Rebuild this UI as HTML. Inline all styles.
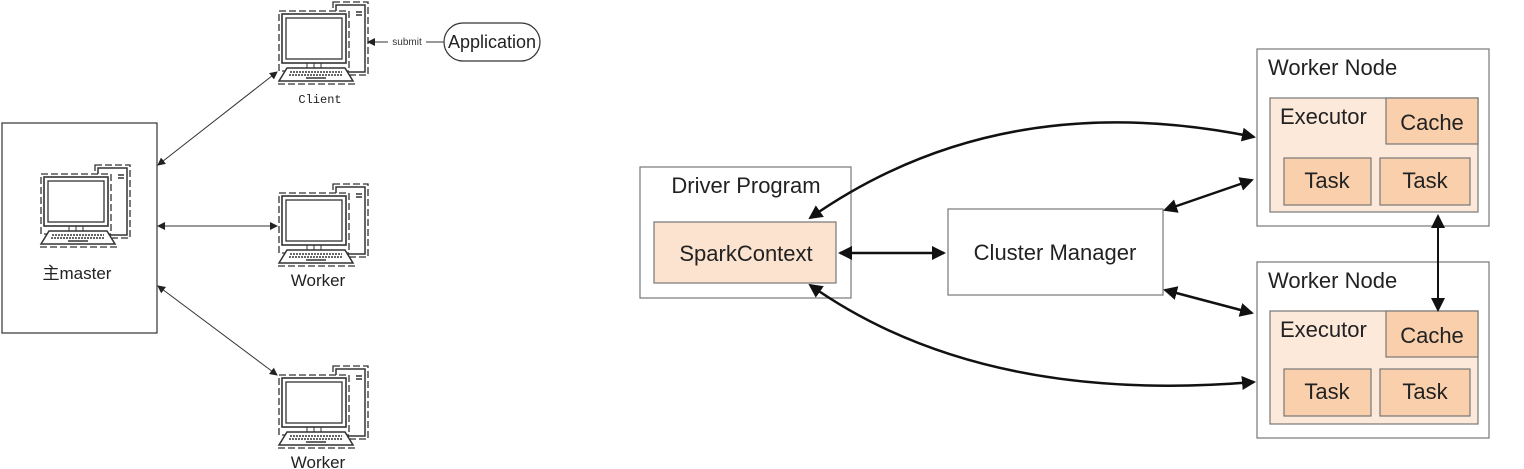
<!DOCTYPE html>
<html><head><meta charset="utf-8"><style>
html,body{margin:0;padding:0;background:#fff}
svg{display:block}
</style></head><body>
<svg width="1524" height="469" viewBox="0 0 1524 469" xmlns="http://www.w3.org/2000/svg">
<defs>
<g id="pc" fill="none" stroke="#333">
 <rect x="55" y="0" width="35" height="73" stroke-dasharray="7,3" stroke-width="1.3"/>
 <rect x="58" y="3" width="29" height="67" fill="#fff" stroke-width="1.5"/>
 <line x1="78" y1="10" x2="84" y2="10" stroke-width="1.5"/><line x1="78" y1="13" x2="84" y2="13" stroke-width="1.5"/>
 <rect x="1" y="9" width="70" height="60" stroke-dasharray="7,3" stroke-width="1.3" fill="#fff"/>
 <rect x="4" y="12" width="64" height="49" stroke-width="1.6" fill="#fff"/>
 <rect x="8" y="16" width="56" height="41" stroke-width="1.3"/>
 <line x1="29" y1="61" x2="29" y2="66"/><line x1="36" y1="61" x2="36" y2="66"/><line x1="43" y1="61" x2="43" y2="66"/>
 <path d="M9 66 H67 L75 79 H1 Z" stroke-width="1.5" fill="#fff"/>
 <line x1="12" y1="70" x2="64" y2="70" stroke-dasharray="2,1" stroke-width="1.5"/>
 <line x1="11" y1="73" x2="65" y2="73" stroke-dasharray="2,1" stroke-width="1.5"/>
 <line x1="28" y1="76" x2="48" y2="76" stroke-width="1.5"/>
 <path d="M0 82 H78" stroke-dasharray="7,3" stroke-width="1.2"/>
</g>
<marker id="a" markerWidth="8" markerHeight="8" refX="7" refY="4" orient="auto-start-reverse" markerUnits="userSpaceOnUse"><path d="M0,0 L8,4 L0,8 Z" fill="#222"/></marker>
<marker id="b" markerWidth="14" markerHeight="14" refX="12" refY="7" orient="auto-start-reverse" markerUnits="userSpaceOnUse"><path d="M0,0 L14,7 L0,14 Z" fill="#111"/></marker>
</defs>

<!-- left diagram -->
<rect x="2" y="123" width="155" height="210" fill="#fff" stroke="#333" stroke-width="1.2"/>
<use href="#pc" x="40" y="165"/>
<text x="77" y="279" font-family="Liberation Sans,'Noto Sans CJK SC',sans-serif" font-size="17" text-anchor="middle" fill="#222">主master</text>
<use href="#pc" x="278" y="2"/>
<use href="#pc" x="278" y="184"/>
<use href="#pc" x="278" y="366"/>
<text x="320" y="103" font-family="Liberation Mono,monospace" font-size="12" text-anchor="middle" fill="#222">Client</text>
<text x="318" y="286" font-family="Liberation Sans,sans-serif" font-size="17" text-anchor="middle" fill="#222">Worker</text>
<text x="318" y="468" font-family="Liberation Sans,sans-serif" font-size="17" text-anchor="middle" fill="#222">Worker</text>
<rect x="444" y="23" width="96" height="38" rx="19" fill="#fff" stroke="#333" stroke-width="1.2"/>
<text x="492" y="48" font-family="Liberation Sans,sans-serif" font-size="18" text-anchor="middle" fill="#222">Application</text>
<line x1="444" y1="42" x2="426" y2="42" stroke="#333"/>
<line x1="388" y1="42" x2="368" y2="42" stroke="#333" marker-end="url(#a)"/>
<text x="407" y="45" font-family="Liberation Sans,sans-serif" font-size="10" text-anchor="middle" fill="#333">submit</text>
<g stroke="#333" stroke-width="1">
<line x1="158" y1="165" x2="277" y2="72" marker-start="url(#a)" marker-end="url(#a)"/>
<line x1="158" y1="226" x2="277" y2="226" marker-start="url(#a)" marker-end="url(#a)"/>
<line x1="158" y1="286" x2="277" y2="375" marker-start="url(#a)" marker-end="url(#a)"/>
</g>

<!-- right diagram -->
<g font-family="Liberation Sans,sans-serif" fill="#222" font-size="22">
<rect x="640" y="167" width="211" height="131" fill="#fff" stroke="#777" stroke-width="1.2"/>
<text x="746" y="193" text-anchor="middle">Driver Program</text>
<rect x="654" y="222" width="182" height="61" fill="#fbe3d0" stroke="#777" stroke-width="1.2"/>
<text x="746" y="261" text-anchor="middle">SparkContext</text>
<rect x="948" y="209" width="215" height="86" fill="#fff" stroke="#777" stroke-width="1.2"/>
<text x="1055" y="260" text-anchor="middle">Cluster Manager</text>

<rect x="1257" y="49" width="232" height="177" fill="#fff" stroke="#777" stroke-width="1.2"/>
<text x="1268" y="75">Worker Node</text>
<rect x="1270" y="98" width="208" height="114" fill="#fde9da" stroke="#777" stroke-width="1.2"/>
<text x="1280" y="124">Executor</text>
<rect x="1386" y="98" width="92" height="46" fill="#f9cfac" stroke="#777" stroke-width="1.2"/>
<text x="1432" y="130" text-anchor="middle">Cache</text>
<rect x="1284" y="158" width="87" height="47" fill="#f9cfac" stroke="#777" stroke-width="1.2"/>
<text x="1327" y="188" text-anchor="middle">Task</text>
<rect x="1380" y="158" width="90" height="47" fill="#f9cfac" stroke="#777" stroke-width="1.2"/>
<text x="1425" y="188" text-anchor="middle">Task</text>

<rect x="1257" y="262" width="232" height="176" fill="#fff" stroke="#777" stroke-width="1.2"/>
<text x="1268" y="288">Worker Node</text>
<rect x="1270" y="311" width="208" height="113" fill="#fde9da" stroke="#777" stroke-width="1.2"/>
<text x="1280" y="337">Executor</text>
<rect x="1386" y="311" width="92" height="46" fill="#f9cfac" stroke="#777" stroke-width="1.2"/>
<text x="1432" y="343" text-anchor="middle">Cache</text>
<rect x="1284" y="369" width="87" height="47" fill="#f9cfac" stroke="#777" stroke-width="1.2"/>
<text x="1327" y="399" text-anchor="middle">Task</text>
<rect x="1380" y="369" width="90" height="47" fill="#f9cfac" stroke="#777" stroke-width="1.2"/>
<text x="1425" y="399" text-anchor="middle">Task</text>
</g>
<g stroke="#111" stroke-width="2.5" fill="none">
<line x1="840" y1="253" x2="944" y2="253" marker-start="url(#b)" marker-end="url(#b)"/>
<path d="M810 218 Q1000 85 1254 137" marker-start="url(#b)" marker-end="url(#b)"/>
<path d="M810 285 Q980 405 1254 382" marker-start="url(#b)" marker-end="url(#b)"/>
<line x1="1165" y1="210" x2="1252" y2="180" marker-start="url(#b)" marker-end="url(#b)"/>
<line x1="1165" y1="290" x2="1252" y2="313" marker-start="url(#b)" marker-end="url(#b)"/>
<line x1="1438" y1="216" x2="1438" y2="310" stroke-width="2" marker-start="url(#b)" marker-end="url(#b)"/>
</g>
</svg>
</body></html>
